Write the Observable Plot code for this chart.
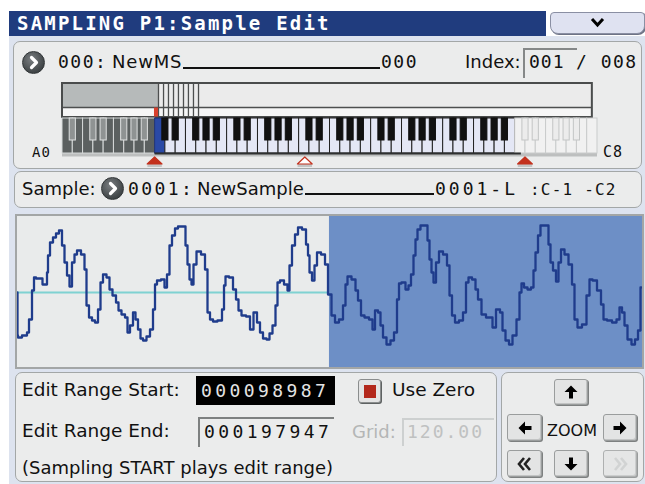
<!DOCTYPE html>
<html><head><meta charset="utf-8">
<script src="https://cdn.jsdelivr.net/npm/d3@7"></script>
<script src="https://cdn.jsdelivr.net/npm/@observablehq/plot@0.6"></script>
<style>
html,body{margin:0;padding:0;background:#fff;}
#screen{position:relative;width:645px;height:484px;overflow:hidden;background:#fff;font-family:"DejaVu Sans",sans-serif;color:#111;}
.a{position:absolute;box-sizing:border-box;}
.t{position:absolute;white-space:nowrap;line-height:1;}
.m{font-family:"DejaVu Sans Mono",monospace;}
.panel{position:absolute;box-sizing:border-box;background:#ebecec;border:1.5px solid #a3a7a7;border-radius:7px;}
.btn{position:absolute;box-sizing:border-box;background:#e3e4e4;border:1px solid #9a9d9d;border-radius:3px;box-shadow:1px 1px 0 #7d8080, inset -1px -1px 0 #c2c4c4;display:flex;align-items:center;justify-content:center;}
.circ{position:absolute;width:23px;height:23px;border-radius:50%;background:radial-gradient(circle at 40% 35%,#7a7e81,#3f4446 72%);border:1px solid #303436;box-sizing:border-box;}
svg{display:block;}
</style>
</head><body>
<div id="screen"></div>
<script>
// ---------- data ----------
const pageTitle = "SAMPLING P1:Sample Edit";
const msNumber = "000", msName = "NewMS", msBank = "000";
const indexCurrent = "001", indexTotal = "008";
const sampleNumber = "0001", sampleName = "NewSample", sampleSuffix = "0001-L", sampleRange = ":C-1 -C2";
const editStart = 98987, editEnd = 197947;
const gridValue = "120.00";
const lowNote = "A0", highNote = "C8";

// waveform: column (display pixel) and amplitude (display pixels above zero)
const waveCol = [0,0,1,4,5,9,10,13,16,17,20,24,26,29,30,31,34,37,40,43,46,48,51,53,56,58,61,66,68,70,73,76,79,82,84,87,91,93,97,100,102,106,109,111,114,117,119,122,124,127,131,134,137,138,141,146,148,151,153,156,159,162,
167,169,171,173,175,177,181,186,189,191,194,197,203,206,207,209,214,217,220,222,226,231,234,238,241,244,247,251,253,257,259,261,264,269,271,273,276,279,282,287,290,291,293,296,298,301,306,309,312,
316,319,324,327,329,331,337,339,342,345,349,354,356,359,362,364,367,371,375,378,381,382,386,390,392,395,397,399,401,405,409,411,413,415,417,420,423,428,431,433,436,439,444,447,450,452,457,459,462,466,471,
474,476,481,484,486,490,493,497,501,503,505,508,512,515,517,519,522,524,530,532,534,537,540,542,545,549,553,556,558,562,567,571,573,577,582,585,587,592,597,601,603,606,608,612,616,619,622,624];
const waveAmp = [0,-43,-45,-45,-43,-43,-40,-27,2,15,14,14,8,8,20,37,50,55,59,62,47,30,17,6,30,38,42,38,23,-13,-25,-28,-30,-17,10,18,15,3,-3,-10,-18,-22,-25,-40,-33,-20,-27,-37,-46,-48,-44,-37,-17,8,12,13,5,18,47,57,64,66,
66,47,28,13,8,28,41,38,23,-20,-27,-29,-28,-17,7,16,15,3,-7,-18,-23,-24,-37,-20,-30,-40,-46,-47,-41,-33,-13,10,12,8,2,27,47,58,65,63,48,37,20,12,27,40,38,28,-2,
-23,-30,-27,-13,8,16,13,2,-8,-23,-25,-27,-37,-18,-20,-33,-45,-52,-48,-40,-7,9,10,3,7,18,37,53,63,67,67,52,33,20,10,30,41,38,27,-3,-23,-30,-28,-20,10,15,13,3,-7,-22,-25,
-25,-35,-17,-20,-38,-48,-52,-43,-27,0,9,5,3,5,22,40,57,67,67,48,30,22,11,30,43,38,28,8,-27,-35,-32,-3,13,12,2,-12,-27,-28,-30,-27,-15,-20,-33,-47,-52,-47,-38,5];
const samplesPerColumn = 317.3;
const viewColumns = 625;

// keyboard: key markers and index-zone boundaries, in white-key units from A0
const keyMarkers = [9.0, 23.6, 45.0];
const markerHollow = [false, true, false];
const zoneBounds = [9.33, 9.82, 10.3, 10.79, 11.27, 11.76, 12.24, 12.73, 13.22];
const zoneLowMidi = 36;   // C2 (selected key)
const fadeFromMidi = 96;  // C7

// ---------- page ----------
const S = document.getElementById("screen");
function div(cls, x, y, w, h, style = "") {
  const d = document.createElement("div");
  d.className = cls;
  d.style.cssText = `left:${x}px;top:${y}px;` + (w != null ? `width:${w}px;height:${h}px;` : "") + style;
  S.appendChild(d); return d;
}
function T(text, x, base, fs, cls = "", style = "") {
  const d = document.createElement("div");
  d.className = "t " + cls;
  d.textContent = text;
  d.style.cssText = `left:${x}px;top:${(base - 0.846 * fs).toFixed(1)}px;font-size:${fs}px;` + style;
  S.appendChild(d); return d;
}
function chevronCircle(cx, cy) {
  const c = div("circ", cx - 11.5, cy - 11.5);
  c.innerHTML = '<svg width="21" height="21"><polyline points="8.5,5.5 13.5,10.5 8.5,15.5" fill="none" stroke="#fff" stroke-width="3.2" stroke-linecap="round" stroke-linejoin="round"/></svg>';
}

// frame + title
div("a", 9, 36, 636, 448, "background:#dde3ef;");
div("a", 9, 11, 537, 25, "background:#203c7e;");
T(pageTitle, 17, 30, 19, "m", "color:#fff;font-weight:bold;letter-spacing:2.2px;");
const menu = div("a", 550, 12, 95, 22, "background:#dfe2f1;border:1px solid #8a8fa3;border-radius:4px 4px 8px 8px;box-shadow:1px 1px 0 #6e7385;");
menu.innerHTML = '<svg width="93" height="20"><polyline points="41,6 46.5,12 52,6" fill="none" stroke="#000" stroke-width="3"/></svg>';

// panel 1
div("panel", 13, 41, 629, 128);
chevronCircle(33, 62);
T(msNumber + ":", 58, 68.5, 18, "m", "letter-spacing:1.5px;");
T(msName, 112, 68.5, 18, "", "letter-spacing:0.8px;");
div("a", 183, 67, 197, 2, "background:#111;");
T(msBank, 381, 68.5, 18, "m", "letter-spacing:1.5px;");
T("Index:", 465, 68.5, 18);
div("a", 523, 48, 54, 30, "border-top:2px solid #858888;border-left:2px solid #858888;");
T(indexCurrent, 529, 68.5, 18, "m", "letter-spacing:1px;");
T("/ " + indexTotal, 576, 68.5, 18, "m", "letter-spacing:1.5px;");
T(lowNote, 32, 157, 14, "m", "letter-spacing:1px;");
T(highNote, 603, 158, 15, "m", "letter-spacing:1px;");

// panel 2
div("panel", 14, 171, 628, 37);
T("Sample:", 22, 195, 18);
chevronCircle(112, 188);
T(sampleNumber + ":", 128, 195, 18, "m", "letter-spacing:2.4px;");
T(sampleName, 197, 195, 18, "");
div("a", 305, 193, 129, 2, "background:#111;");
T(sampleSuffix, 435, 195, 18, "m", "letter-spacing:3px;");
T(sampleRange, 530, 195, 16, "m", "letter-spacing:1.2px;");

// bottom-left panel
div("panel", 15, 372, 482, 110);
T("Edit Range Start:", 22, 397, 18.5);
div("a", 196, 376, 139, 29, "background:#000;");
T(String(editStart).padStart(9, "0"), 201, 397, 18, "m", "color:#e4e4e4;letter-spacing:3.4px;");
div("a", 358, 379, 23, 24, "background:#e4e4e4;border:1px solid #8a8d8d;border-radius:3px;box-shadow:1px 1px 0 #5e6262;");
div("a", 364, 385, 12, 13, "background:#b3281b;");
T("Use Zero", 392, 397, 18.5);
T("Edit Range End:", 22, 438, 18.5);
div("a", 198, 417, 136, 30, "border-top:2px solid #7d8080;border-left:2px solid #7d8080;");
T(String(editEnd).padStart(9, "0"), 204, 438, 18, "m", "letter-spacing:3.4px;");
T("Grid:", 352, 438, 18, "", "color:#b4b6b6;");
div("a", 402, 418, 92, 28, "border-top:2px solid #cdd0d0;border-left:2px solid #cdd0d0;");
T(gridValue, 407, 438, 18, "m", "color:#bfc1c1;letter-spacing:2px;");
T("(Sampling START plays edit range)", 22, 474, 18);

// bottom-right panel
div("panel", 501, 372, 143, 110);
const arrow = (rot, col = "#000") => `<svg width="16" height="16"><g transform="rotate(${rot} 8 8)"><polygon points="8,1.5 14.5,8 10,8 10,14.5 6,14.5 6,8 1.5,8" fill="${col}"/></g></svg>`;
const dbl = (dir, col) => `<svg width="18" height="16"><g transform="${dir < 0 ? "" : "translate(18,0) scale(-1,1)"}"><polyline points="8,2 3,8 8,14" fill="none" stroke="${col}" stroke-width="2.6"/><polyline points="14,2 9,8 14,14" fill="none" stroke="${col}" stroke-width="2.6"/></g></svg>`;
div("btn", 554, 379, 34, 26).innerHTML = arrow(0);
div("btn", 507, 414, 35, 27).innerHTML = arrow(-90);
div("btn", 603, 414, 34, 27).innerHTML = arrow(90);
T("ZOOM", 547, 436, 16);
div("btn", 507, 450, 35, 27).innerHTML = dbl(-1, "#222");
div("btn", 554, 450, 34, 27).innerHTML = arrow(180);
div("btn", 603, 450, 34, 27, "opacity:0.75;").innerHTML = dbl(1, "#c9cbcb");

// ---------- keyboard (Plot) ----------
const whiteKeys = [], blackKeys = [];
{
  let w = 0;
  const blackPc = [1, 3, 6, 8, 10];
  for (let m = 21; m <= 108; m++) {
    if (blackPc.includes(m % 12)) blackKeys.push({x: w, m});
    else { whiteKeys.push({i: w, m}); w++; }
  }
}
const zoneOf = m => m < zoneLowMidi ? "low" : m === zoneLowMidi ? "sel" : m >= fadeFromMidi ? "fade" : "on";
const whiteFill = {low: "#5b6060", sel: "#2a49a6", on: "#e4e7f5", fade: "#f1f1f1"};
const whiteStroke = {low: "#d6d9d9", sel: "#1b2f70", on: "#222", fade: "#c9cbcb"};
const blackFill = {low: "#8f9393", on: "#111", fade: "#ececec"};
const blackStroke = {low: "#dfe1e1", on: "#111", fade: "#c3c5c5"};
const tri = [];
keyMarkers.forEach((x, k) => {
  tri.push({k, x: x - 0.72, tip: 84, hollow: markerHollow[k]});
  tri.push({k, x: x, tip: 77, hollow: markerHollow[k]});
  tri.push({k, x: x + 0.72, tip: 84, hollow: markerHollow[k]});
});
const kb = Plot.plot({
  width: 560, height: 92, margin: 0,
  x: {domain: [0, 52], range: [12, 547], axis: null},
  y: {domain: [0, 92], range: [0, 92], axis: null},
  style: {background: "transparent", overflow: "visible"},
  marks: [
    Plot.rect([0], {x1: 0, x2: 51.5, y1: 3, y2: 37, fill: "#ebebeb"}),
    Plot.rect([0], {x1: 0, x2: zoneBounds[0], y1: 3, y2: 27, fill: "#b6baba"}),
    Plot.rect([0], {x1: 0, x2: 51.5, y1: 27, y2: 37, fill: "#f6f6f6"}),
    Plot.ruleX(zoneBounds, {y1: 3, y2: 37, stroke: "#4d4f4f", strokeWidth: 1.3}),
    Plot.ruleY([27], {x1: 0, x2: 51.5, stroke: "#4d4f4f", strokeWidth: 1.5}),
    Plot.rect([0], {x1: 0, x2: 51.5, y1: 3, y2: 37, fill: "none", stroke: "#4a4c4c", strokeWidth: 2}),
    Plot.rect([0], {x1: 8.94, x2: zoneBounds[0], y1: 27.5, y2: 36.5, fill: "#d8402e"}),
    Plot.rect([0], {x1: 0, x2: 52, y1: 73, y2: 76.5, fill: "#bdbfbf"}),
    Plot.rect(whiteKeys, {x1: "i", x2: d => d.i + 1, y1: 38, y2: 73,
      fill: d => whiteFill[zoneOf(d.m)], stroke: d => whiteStroke[zoneOf(d.m)], strokeWidth: 1}),
    Plot.rect(blackKeys, {x1: d => d.x - 0.3, x2: d => d.x + 0.3, y1: 38, y2: 60,
      fill: d => blackFill[zoneOf(d.m)], stroke: d => blackStroke[zoneOf(d.m)], strokeWidth: 1}),
    Plot.ruleY([73], {x1: 9, x2: 44.6, stroke: "#2e3030", strokeWidth: 2}),
    Plot.rect(keyMarkers, {x1: d => d - 0.7, x2: d => d + 0.7, y1: 84, y2: 87, fill: "#c3c5c5"}),
    Plot.area(tri, {x1: "x", y1: 84, y2: "tip", z: "k", fill: d => d.hollow ? "#fff" : "#c3311d", stroke: "#c3311d", strokeWidth: 1.2})
  ]
});
div("a", 50, 80, 560, 92).appendChild(kb);

// ---------- waveform (Plot) ----------
const wave = waveCol.map((c, i) => ({x: c * samplesPerColumn, a: waveAmp[i]}));
const viewEnd = viewColumns * samplesPerColumn;
const wv = Plot.plot({
  width: viewColumns, height: 151, margin: 0,
  x: {domain: [0, viewEnd], axis: null},
  y: {domain: [-75, 76], axis: null},
  style: {background: "#e9ebeb"},
  marks: [
    Plot.rect([editStart], {x1: d => d, x2: viewEnd, y1: -75, y2: 76, fill: "#6d8fc6"}),
    Plot.ruleY([0], {x1: 0, x2: editStart, stroke: "#7fd2d2", strokeWidth: 2}),
    Plot.line(wave, {x: "x", y: "a", curve: "step", stroke: "#1f3c8c", strokeWidth: 2.3})
  ]
});
div("a", 15, 214, 629, 155, "border:2px solid #a3a6a6;").appendChild(wv);
</script>
</body></html>
